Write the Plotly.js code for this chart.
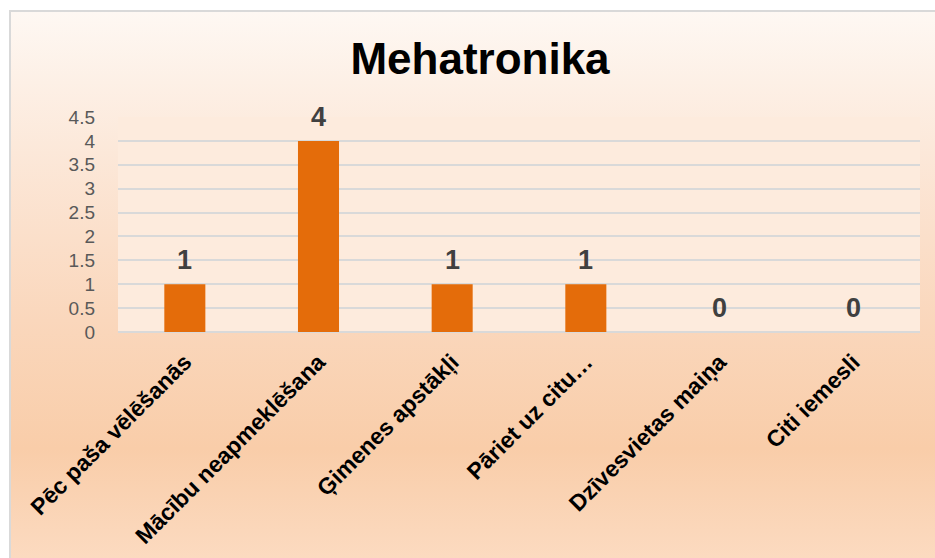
<!DOCTYPE html>
<html>
<head>
<meta charset="utf-8">
<script src="https://cdn.plot.ly/plotly-3.0.1.min.js"></script>
<style>
  html, body { margin: 0; padding: 0; background: #ffffff; }
  #wrap { position: relative; width: 935px; height: 558px; overflow: hidden; }
  #bg {
    position: absolute; left: 9px; top: 10px; width: 940px; height: 560px;
    border-left: 2px solid #D9D9D9; border-top: 2px solid #D9D9D9;
    background: linear-gradient(to bottom, #FEF8F3 0%, #FCE8D9 25%, #FAD7BC 55%, #F9CDA9 78%, #FCDCC3 100%);
  }
  #chart { position: absolute; left: 0; top: 0; width: 935px; height: 558px; }
</style>
</head>
<body>
<div id="wrap">
  <div id="bg"></div>
  <div id="chart"></div>
</div>
<script>
const categories = [
  "Pēc paša vēlēšanās",
  "Mācību neapmeklēšana",
  "Ģimenes apstākļi",
  "Pāriet uz citu…",
  "Dzīvesvietas maiņa",
  "Citi iemesli"
];
const values = [1, 4, 1, 1, 0, 0];
const yTicks = [0, 0.5, 1, 1.5, 2, 2.5, 3, 3.5, 4, 4.5];
const titleText = "Mehatronika";

const trace = {
  type: "bar",
  x: categories,
  y: values,
  marker: { color: "#E46C0A" },
  hoverinfo: "x+y"
};

const annotations = categories.map((c, i) => ({
  x: c,
  y: values[i],
  xref: "x",
  yref: "y",
  text: String(values[i]),
  showarrow: false,
  yanchor: "bottom",
  yshift: 7,
  font: { family: "Liberation Sans, Arial, sans-serif", size: 27, color: "#404040", weight: "bold" }
}));

const layout = {
  width: 935,
  height: 558,
  margin: { l: 118, r: 15, t: 117, b: 226 },
  paper_bgcolor: "rgba(0,0,0,0)",
  plot_bgcolor: "#FDEBDD",
  showlegend: false,
  bargap: 0.693,
  title: {
    text: titleText,
    x: 480 / 935,
    xref: "container",
    xanchor: "center",
    y: 1 - 59 / 558,
    yref: "container",
    yanchor: "middle",
    font: { family: "Liberation Sans, Arial, sans-serif", size: 44, color: "#000000", weight: "bold" }
  },
  xaxis: {
    type: "category",
    tickangle: -45,
    showgrid: false,
    showline: false,
    ticks: "",
    ticklabelstandoff: 11,
    tickfont: { family: "Liberation Sans, Arial, sans-serif", size: 23, color: "#000000", weight: "bold" },
    fixedrange: true
  },
  yaxis: {
    range: [0, 4.5],
    tickvals: yTicks,
    ticktext: yTicks.map(v => String(v)),
    showgrid: true,
    gridcolor: "#D9D9D9",
    gridwidth: 2,
    zeroline: true,
    zerolinecolor: "#D9D9D9",
    zerolinewidth: 2,
    showline: false,
    ticks: "",
    ticklabelstandoff: 22,
    tickfont: { family: "Liberation Sans, Arial, sans-serif", size: 19, color: "#595959" },
    fixedrange: true
  },
  annotations: annotations
};

Plotly.newPlot("chart", [trace], layout, { displayModeBar: false, staticPlot: true });
</script>
</body>
</html>
